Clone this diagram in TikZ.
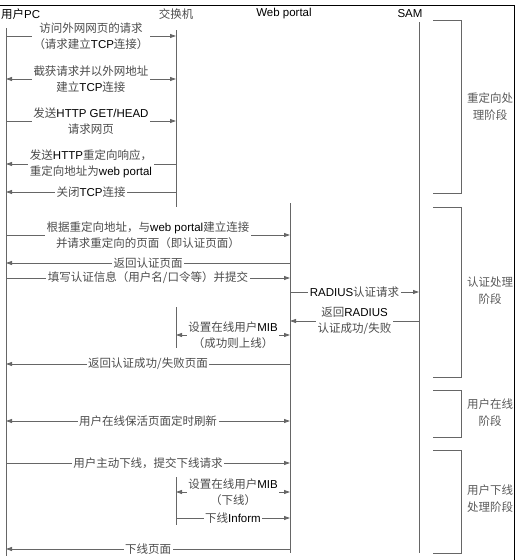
\documentclass[tikz,border=0pt]{standalone}
\usepackage{fontspec}
\setmainfont{Noto Sans CJK SC}
\newfontfamily\latfont{Liberation Sans}
\usepackage{tikz}
\usetikzlibrary{arrows.meta}
\newcommand{\en}[1]{{\latfont\color{black}#1}}

\begin{document}
\begin{tikzpicture}[x=1pt, y=-1pt,
  >={Triangle[length=6pt,width=4pt]},
  head/.style={font=\fontsize{11.5}{14}\selectfont, inner sep=1pt},
  life/.style={draw=black!60, line width=0.8pt},
  msg/.style={->, draw=black!60, line width=0.8pt},
  lbl/.style={fill=white, inner sep=1.5pt, align=center, text=black!70, font=\fontsize{11.5}{16.5}\selectfont},
  brk/.style={draw=black!60, line width=0.8pt},
  phase/.style={align=center, inner sep=0pt, text=black!65, font=\fontsize{11.5}{17}\selectfont}]
  \useasboundingbox (0,0) rectangle (516,560);
  \draw[line width=0.8pt] (0,5) -- (514,5) -- (514,560);
  % heads
  \node[head, anchor=west] (pc) at (0,14) {用户\en{PC}};
  \node[head, text=black!70] (sw) at (176,14) {交换机};
  \node[head] (wp) at (284,14) {\en{Web portal}};
  \node[head] (sam) at (410,14) {\en{SAM}};
  % lifelines
  \coordinate (pcT) at (6,28);    \coordinate (pcB) at (6,556);
  \coordinate (swT) at (176,30);  \coordinate (swB) at (176,207);
  \coordinate (wpT) at (290,203); \coordinate (wpB) at (290,553);
  \coordinate (samT) at (419,22); \coordinate (samB) at (419,553);
  \coordinate (act1T) at (176,307); \coordinate (act1B) at (176,348);
  \coordinate (act2T) at (176,477); \coordinate (act2B) at (176,525);
  \draw[life] (pcT) -- (pcB);
  \draw[life] (swT) -- (swB);
  \draw[life] (wpT) -- (wpB);
  \draw[life] (samT) -- (samB);
  \draw[life] (act1T) -- (act1B);
  \draw[life] (act2T) -- (act2B);
  % redirect
  \draw[msg] (pcT |- 0,36) -- node[lbl] (m1) {访问外网网页的请求\\（请求建立\en{TCP}连接）} (swT |- 0,36);
  \draw[msg, <->] (pcT |- 0,79) -- node[lbl] (m2) {截获请求并以外网地址\\建立\en{TCP}连接} (swT |- 0,79);
  \draw[msg] (pcT |- 0,121) -- node[lbl] (m3) {发送\en{HTTP GET/HEAD}\\请求网页} (swT |- 0,121);
  \draw[msg] (swT |- 0,164) -- node[lbl] (m4) {发送\en{HTTP}重定向响应，\\重定向地址为\en{web portal}} (pcT |- 0,164);
  \draw[msg] (swT |- 0,192) -- node[lbl] (m5) {关闭\en{TCP}连接} (pcT |- 0,192);
  % authentication
  \draw[msg] (pcT |- 0,235) -- node[lbl] (m6) {根据重定向地址，与\en{web portal}建立连接\\并请求重定向的页面（即认证页面）} (wpT |- 0,235);
  \draw[msg] (wpT |- 0,263) -- node[lbl] (m7) {返回认证页面} (pcT |- 0,263);
  \draw[msg] (pcT |- 0,278) -- node[lbl] (m8) {填写认证信息（用户名/口令等）并提交} (wpT |- 0,278);
  \draw[msg] (wpT |- 0,292) -- node[lbl] (m9) {\en{RADIUS}认证请求} (samT |- 0,292);
  \draw[msg] (samT |- 0,321) -- node[lbl] (m10) {返回\en{RADIUS}\\认证成功/失败} (wpT |- 0,321);
  \draw[msg, <->] (act1T |- 0,335) -- node[lbl] (m11) {设置在线用户\en{MIB}\\（成功则上线）} (wpT |- 0,335);
  \draw[msg] (wpT |- 0,364) -- node[lbl] (m12) {返回认证成功/失败页面} (pcT |- 0,364);
  % online
  \draw[msg, <->] (pcT |- 0,421) -- node[lbl] (m13) {用户在线保活页面定时刷新} (wpT |- 0,421);
  % offline
  \draw[msg] (pcT |- 0,463) -- node[lbl] (m14) {用户主动下线，提交下线请求} (wpT |- 0,463);
  \draw[msg, <->] (act2T |- 0,492) -- node[lbl] (m15) {设置在线用户\en{MIB}\\（下线）} (wpT |- 0,492);
  \draw[msg] (act2T |- 0,518) -- node[lbl] (m16) {下线\en{Inform}} (wpT |- 0,518);
  \draw[msg] (wpT |- 0,549) -- node[lbl] (m17) {下线页面} (pcT |- 0,549);
  % phases
  \draw[brk] (433,20) -- (461,20) -- (461,193) -- (433,193);
  \draw[brk] (433,207) -- (461,207) -- (461,377) -- (433,377);
  \draw[brk] (433,390) -- (461,390) -- (461,437) -- (433,437);
  \draw[brk] (433,450) -- (461,450) -- (461,553) -- (433,553);
  \node[phase] (ph1) at (490,107) {重定向处\\理阶段};
  \node[phase] (ph2) at (490,291) {认证处理\\阶段};
  \node[phase] (ph3) at (490,413) {用户在线\\阶段};
  \node[phase] (ph4) at (490,499) {用户下线\\处理阶段};
\end{tikzpicture}
\end{document}
